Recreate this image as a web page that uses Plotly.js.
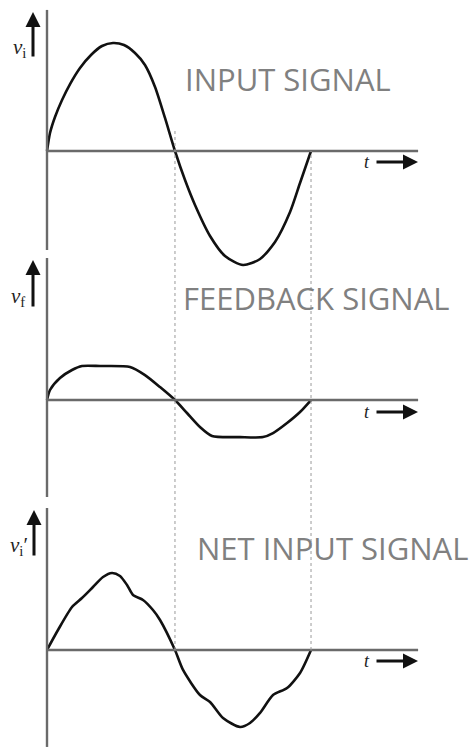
<!DOCTYPE html>
<html>
<head>
<meta charset="utf-8">
<script src="https://cdn.plot.ly/plotly-3.0.1.min.js"></script>
<style>
  html, body { margin: 0; padding: 0; background: #fff; }
  #chart { width: 475px; height: 749px; }
</style>
</head>
<body>
<div id="chart"></div>
<script>
// Time axis in electrical degrees (one full cycle = 360), amplitudes normalised to the input peak.
const inputT = [0, 4.1, 10.9, 20.5, 31.4, 45.0, 60.0, 75.0, 90.0, 105.0, 120.0, 133.6, 147.3, 160.9, 174.5,
                188.2, 201.8, 222.3, 242.7, 267.3, 290.5, 310.9, 331.4, 345.0, 360];
const inputV = [0, 0.167, 0.315, 0.472, 0.620, 0.769, 0.889, 0.972, 1.0, 0.981, 0.907, 0.796, 0.593, 0.306, 0,
                -0.269, -0.500, -0.787, -0.972, -1.056, -1.0, -0.843, -0.565, -0.296, 0];

const feedbackT = [0, 4.1, 17.7, 34.1, 47.7, 72.3, 113.2, 133.6, 154.1, 174.5,
                   190.9, 208.6, 225.0, 263.2, 294.5, 308.2, 327.3, 345.0, 360];
const feedbackV = [0, 0.093, 0.204, 0.278, 0.315, 0.315, 0.306, 0.231, 0.12, 0,
                   -0.120, -0.250, -0.333, -0.343, -0.343, -0.306, -0.213, -0.111, 0];

const netT = [0, 15.0, 34.1, 47.7, 62.7, 76.4, 88.6, 99.5, 109.1, 117.3, 130.9, 144.5, 154.1, 174.5,
              185.5, 208.6, 222.3, 240.0, 263.2, 276.8, 290.5, 308.2, 327.3, 345.0, 360];
const netV = [0, 0.185, 0.398, 0.481, 0.583, 0.676, 0.713, 0.685, 0.602, 0.509, 0.463, 0.370, 0.278, 0,
              -0.185, -0.417, -0.481, -0.630, -0.713, -0.676, -0.583, -0.417, -0.352, -0.213, 0];

const panelTitles = ['INPUT SIGNAL', 'FEEDBACK SIGNAL', 'NET INPUT SIGNAL'];
const panelSymbols = ['<i>v</i><sub>i</sub>', '<i>v</i><sub>f</sub>', '<i>v</i><sub>i</sub>\u2032'];
const zeroCrossings = [174.5, 360];   // half-cycle and full-cycle instants
const tAxisEnd = 506;

const W = 475, H = 749;
const px = x => x / W;               // helpers for paper-anchored placement
const py = y => 1 - y / H;

const curveLine = { color: '#111', width: 2.6, shape: 'spline', smoothing: 0.7 };
const traces = [
  { x: inputT, y: inputV, yaxis: 'y', mode: 'lines', line: curveLine, hoverinfo: 'skip' },
  { x: feedbackT, y: feedbackV, yaxis: 'y2', mode: 'lines', line: curveLine, hoverinfo: 'skip' },
  { x: netT, y: netV, yaxis: 'y3', mode: 'lines', line: curveLine, hoverinfo: 'skip' }
];

const hidden = { visible: true, showgrid: false, zeroline: false, showline: false,
                 showticklabels: false, ticks: '', fixedrange: true };

const axisColor = '#6a6a6a';
const refs = ['y', 'y2', 'y3'];
const vAxisSpan = [[-0.917, 1.306], [-0.898, 1.315], [-0.898, 1.315]];
const shapes = [];
refs.forEach((r, i) => {
  shapes.push({ type: 'line', xref: 'x', yref: r, x0: 0, x1: 0,
                y0: vAxisSpan[i][0], y1: vAxisSpan[i][1], line: { color: axisColor, width: 2.4 } });
  shapes.push({ type: 'line', xref: 'x', yref: r, x0: 0, x1: tAxisEnd,
                y0: 0, y1: 0, line: { color: axisColor, width: 2.4 } });
});
shapes.push({ type: 'line', xref: 'x', yref: 'paper', x0: zeroCrossings[0], x1: zeroCrossings[0],
              y0: py(650), y1: py(128), line: { color: '#9a9a9a', width: 1, dash: 'dot' } });
shapes.push({ type: 'line', xref: 'x', yref: 'paper', x0: zeroCrossings[1], x1: zeroCrossings[1],
              y0: py(650), y1: py(151), line: { color: '#9a9a9a', width: 1, dash: 'dot' } });

const titleFont = { family: 'Open Sans, sans-serif', size: 31, color: '#808080' };
const symFont = { family: 'Liberation Serif, DejaVu Serif, serif', size: 21, color: '#222' };
const annotations = [];
const titlePos = [[288, 79], [316, 298], [332, 548]];
const symPos = [[19, 48], [18, 297], [19, 546]];
const upArrow = [[33, 12, 58], [33, 260, 308], [34, 510, 557]];
const tRow = [162, 412, 661];

panelTitles.forEach((txt, i) => {
  annotations.push({ text: txt, xref: 'paper', yref: 'paper', x: px(titlePos[i][0]), y: py(titlePos[i][1]),
                     xanchor: 'center', yanchor: 'middle', showarrow: false, font: titleFont });
  annotations.push({ text: panelSymbols[i], xref: 'paper', yref: 'paper', x: px(symPos[i][0]), y: py(symPos[i][1]),
                     xanchor: 'center', yanchor: 'middle', showarrow: false, font: symFont });
  annotations.push({ text: '', xref: 'paper', yref: 'paper', x: px(upArrow[i][0]), y: py(upArrow[i][1]),
                     ax: 0, ay: upArrow[i][2] - upArrow[i][1], showarrow: true,
                     arrowhead: 2, arrowsize: 1, arrowwidth: 3, arrowcolor: '#111' });
  annotations.push({ text: '<i>t</i>', xref: 'paper', yref: 'paper', x: px(367), y: py(tRow[i]),
                     xanchor: 'center', yanchor: 'middle', showarrow: false,
                     font: { family: 'Liberation Serif, serif', size: 18, color: '#222' } });
  annotations.push({ text: '', xref: 'paper', yref: 'paper', x: px(418), y: py(tRow[i]),
                     ax: -43, ay: 0, showarrow: true,
                     arrowhead: 2, arrowsize: 1, arrowwidth: 3, arrowcolor: '#111' });
});

// All three signal axes share the full page height; each range puts its zero line on its own row.
const layout = {
  width: W, height: H,
  margin: { l: 0, r: 0, t: 0, b: 0 },
  paper_bgcolor: '#fff', plot_bgcolor: '#fff',
  showlegend: false,
  xaxis: Object.assign({}, hidden, { range: [-64.09, 583.6], domain: [0, 1] }),
  yaxis: Object.assign({}, hidden, { domain: [0, 1], range: [-5.537, 1.398] }),
  yaxis2: Object.assign({}, hidden, { overlaying: 'y', range: [-3.231, 3.704] }),
  yaxis3: Object.assign({}, hidden, { overlaying: 'y', range: [-0.917, 6.019] }),
  shapes: shapes,
  annotations: annotations
};

Plotly.newPlot('chart', traces, layout, { staticPlot: true, displayModeBar: false });
</script>
</body>
</html>
